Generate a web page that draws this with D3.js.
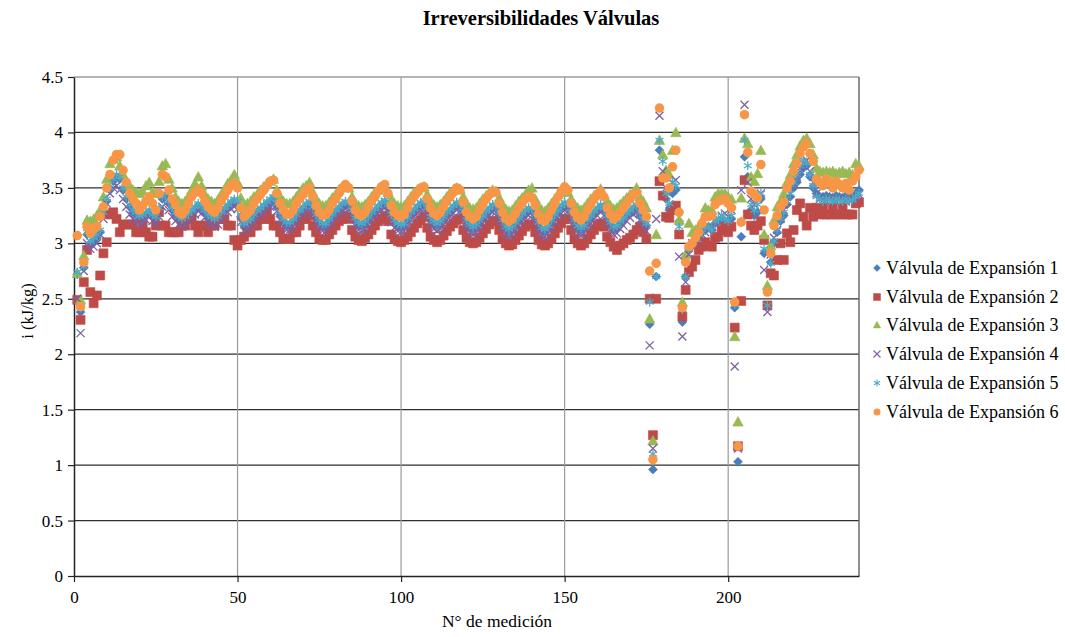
<!DOCTYPE html>
<html>
<head>
<meta charset="utf-8">
<script src="https://cdn.jsdelivr.net/npm/d3@7"></script>
<style>
  html, body { margin: 0; padding: 0; background: #fff; }
  svg { display: block; }
  text { font-family: "Liberation Serif", "Times New Roman", serif; fill: #000; }
</style>
</head>
<body>
<svg id="chart" width="1065" height="637"></svg>
<script>
const chartTitle = "Irreversibilidades Válvulas";
const xLabel = "N° de medición";
const yLabel = "i (kJ/kg)";
const xTicks = [0, 50, 100, 150, 200];
const yTicks = [0, 0.5, 1, 1.5, 2, 2.5, 3, 3.5, 4, 4.5];
const seriesNames = ["Válvula de Expansión 1","Válvula de Expansión 2","Válvula de Expansión 3","Válvula de Expansión 4","Válvula de Expansión 5","Válvula de Expansión 6"];

const valvula1 = [
2.72,2.38,2.78,3.08,3.00,3.02,3.05,3.10,3.25,3.38,
3.48,3.56,3.60,3.58,3.48,3.40,3.33,3.28,3.26,3.22,
3.24,3.26,3.28,3.24,3.22,3.30,3.40,3.42,3.36,3.30,
3.26,3.22,3.20,3.22,3.25,3.28,3.31,3.34,3.32,3.28,
3.24,3.22,3.20,3.22,3.26,3.30,3.33,3.36,3.38,3.36,
3.24,3.16,3.18,3.20,3.24,3.28,3.30,3.33,3.36,3.38,
3.40,3.34,3.26,3.20,3.17,3.17,3.20,3.24,3.28,3.31,
3.34,3.36,3.31,3.24,3.19,3.16,3.16,3.20,3.24,3.28,
3.31,3.34,3.36,3.35,3.28,3.21,3.17,3.16,3.18,3.22,
3.26,3.29,3.32,3.35,3.37,3.33,3.24,3.19,3.16,3.15,
3.16,3.21,3.26,3.29,3.32,3.35,3.36,3.30,3.22,3.18,
3.16,3.18,3.22,3.26,3.29,3.32,3.35,3.34,3.27,3.19,
3.15,3.13,3.15,3.19,3.23,3.27,3.30,3.33,3.33,3.26,
3.19,3.13,3.11,3.13,3.17,3.21,3.25,3.28,3.30,3.30,
3.24,3.17,3.12,3.11,3.14,3.19,3.24,3.28,3.32,3.35,
3.34,3.26,3.19,3.14,3.12,3.14,3.19,3.23,3.27,3.30,
3.33,3.30,3.23,3.17,3.13,3.14,3.18,3.21,3.25,3.28,
3.31,3.33,3.26,3.20,3.16,2.27,0.96,2.70,3.84,3.60,
3.40,3.30,3.45,3.48,3.20,2.29,2.70,2.95,2.98,3.00,
3.05,3.10,3.12,3.15,3.12,3.18,3.20,3.22,3.20,3.18,
3.22,2.42,1.03,3.06,3.78,3.60,3.30,3.25,3.28,3.40,
2.91,2.44,2.83,3.00,3.10,3.20,3.25,3.35,3.42,3.50,
3.55,3.62,3.68,3.70,3.60,3.50,3.45,3.42,3.42,3.43,
3.42,3.41,3.43,3.42,3.41,3.43,3.42,3.41,3.45,3.48];

const valvula2 = [
2.49,2.31,2.65,2.94,2.56,2.46,2.53,2.71,2.91,3.01,
3.26,3.28,3.22,3.10,3.17,3.17,3.17,3.17,3.10,3.10,
3.17,3.10,3.06,3.06,3.16,3.28,3.16,3.16,3.10,3.10,
3.10,3.10,3.16,3.16,3.22,3.22,3.16,3.10,3.16,3.16,
3.10,3.16,3.16,3.22,3.22,3.22,3.16,3.16,3.03,2.98,
3.03,3.06,3.10,3.10,3.16,3.16,3.22,3.22,3.28,3.22,
3.16,3.16,3.10,3.04,3.04,3.04,3.10,3.10,3.16,3.22,
3.22,3.25,3.16,3.10,3.04,3.03,3.03,3.08,3.12,3.16,
3.20,3.22,3.25,3.22,3.12,3.06,3.03,3.02,3.05,3.08,
3.12,3.16,3.20,3.22,3.25,3.20,3.08,3.04,3.02,3.01,
3.03,3.06,3.10,3.14,3.18,3.21,3.24,3.14,3.06,3.03,
3.01,3.03,3.07,3.11,3.15,3.18,3.21,3.22,3.12,3.05,
3.01,3.00,3.01,3.05,3.09,3.13,3.17,3.20,3.20,3.12,
3.04,3.00,2.98,2.99,3.03,3.07,3.11,3.15,3.17,3.17,
3.10,3.03,2.99,2.98,3.00,3.04,3.09,3.14,3.18,3.22,
3.22,3.12,3.04,3.00,2.98,3.00,3.04,3.08,3.12,3.16,
3.18,3.15,3.06,3.01,2.97,2.94,2.98,3.00,3.03,3.05,
3.08,3.12,3.15,3.10,3.04,2.50,1.27,2.50,3.56,3.43,
3.24,3.23,3.30,3.34,3.08,2.34,2.58,2.74,2.79,2.85,
2.94,2.97,3.01,2.98,2.97,3.05,3.06,3.12,3.15,3.10,
3.15,2.24,1.17,2.48,3.57,3.26,3.16,3.12,3.16,3.20,
3.03,2.44,2.73,2.71,2.85,3.00,2.85,3.09,3.01,3.12,
3.30,3.36,3.24,3.16,3.32,3.24,3.32,3.26,3.32,3.26,
3.26,3.32,3.26,3.26,3.32,3.26,3.26,3.26,3.36,3.37];

const valvula3 = [
2.73,2.49,2.89,3.21,3.20,3.22,3.25,3.30,3.42,3.58,
3.72,3.76,3.78,3.70,3.62,3.56,3.52,3.48,3.46,3.45,
3.47,3.52,3.55,3.46,3.45,3.56,3.70,3.72,3.58,3.50,
3.42,3.38,3.36,3.38,3.42,3.48,3.54,3.60,3.52,3.44,
3.40,3.38,3.36,3.39,3.44,3.48,3.54,3.57,3.62,3.55,
3.41,3.34,3.36,3.38,3.42,3.44,3.48,3.51,3.54,3.56,
3.58,3.48,3.42,3.38,3.36,3.36,3.38,3.42,3.46,3.50,
3.52,3.55,3.46,3.40,3.36,3.34,3.34,3.37,3.41,3.44,
3.48,3.51,3.52,3.50,3.42,3.36,3.34,3.33,3.35,3.38,
3.42,3.46,3.48,3.50,3.51,3.46,3.40,3.36,3.34,3.33,
3.34,3.38,3.42,3.46,3.48,3.50,3.51,3.44,3.38,3.35,
3.33,3.35,3.38,3.42,3.46,3.48,3.50,3.49,3.42,3.36,
3.32,3.31,3.32,3.36,3.40,3.43,3.46,3.48,3.47,3.41,
3.35,3.31,3.29,3.30,3.34,3.38,3.41,3.44,3.48,3.50,
3.40,3.34,3.30,3.29,3.32,3.36,3.40,3.44,3.46,3.48,
3.46,3.40,3.35,3.32,3.30,3.32,3.36,3.40,3.43,3.45,
3.49,3.44,3.38,3.34,3.31,3.32,3.35,3.38,3.41,3.44,
3.46,3.50,3.42,3.38,3.32,2.32,1.22,3.08,3.93,3.80,
3.66,3.62,3.84,4.00,3.21,2.47,2.90,3.18,3.10,3.12,
3.15,3.20,3.32,3.30,3.30,3.42,3.45,3.45,3.45,3.42,
3.40,2.16,1.39,3.41,3.95,3.90,3.60,3.56,3.63,3.84,
3.08,2.62,2.98,3.21,3.33,3.38,3.45,3.55,3.62,3.72,
3.80,3.88,3.93,3.95,3.90,3.80,3.68,3.65,3.64,3.65,
3.64,3.65,3.63,3.64,3.65,3.63,3.64,3.62,3.72,3.70];

const valvula4 = [
2.50,2.19,2.75,3.00,2.95,2.97,3.00,3.08,3.22,3.36,
3.45,3.50,3.52,3.48,3.40,3.33,3.26,3.22,3.20,3.17,
3.19,3.21,3.24,3.20,3.17,3.24,3.33,3.36,3.30,3.24,
3.20,3.17,3.15,3.17,3.20,3.23,3.26,3.29,3.27,3.23,
3.19,3.17,3.15,3.17,3.21,3.25,3.28,3.31,3.33,3.31,
3.19,3.11,3.13,3.15,3.19,3.23,3.25,3.28,3.31,3.33,
3.35,3.29,3.21,3.15,3.12,3.12,3.15,3.19,3.23,3.26,
3.29,3.31,3.26,3.19,3.14,3.11,3.11,3.15,3.19,3.23,
3.26,3.29,3.31,3.30,3.23,3.16,3.12,3.11,3.13,3.17,
3.21,3.24,3.27,3.30,3.32,3.28,3.19,3.14,3.11,3.10,
3.11,3.16,3.21,3.24,3.27,3.30,3.31,3.25,3.17,3.13,
3.11,3.13,3.17,3.21,3.24,3.27,3.30,3.29,3.22,3.14,
3.10,3.08,3.10,3.14,3.18,3.22,3.25,3.28,3.28,3.21,
3.14,3.08,3.06,3.08,3.12,3.16,3.20,3.23,3.25,3.25,
3.19,3.12,3.07,3.06,3.09,3.14,3.19,3.23,3.27,3.30,
3.29,3.21,3.14,3.09,3.07,3.09,3.14,3.18,3.22,3.25,
3.28,3.25,3.18,3.12,3.08,3.09,3.13,3.16,3.20,3.23,
3.26,3.28,3.21,3.15,3.11,2.08,1.15,3.22,4.15,3.65,
3.50,3.35,3.55,3.57,2.88,2.16,2.65,2.90,3.00,3.02,
3.05,3.08,3.10,3.12,3.15,3.20,3.22,3.25,3.27,3.24,
3.30,1.89,1.15,3.48,4.25,3.55,3.40,3.35,3.40,3.45,
2.76,2.38,2.90,3.05,3.12,3.22,3.30,3.38,3.45,3.55,
3.60,3.68,3.72,3.75,3.65,3.55,3.45,3.40,3.39,3.38,
3.40,3.39,3.38,3.40,3.39,3.38,3.40,3.39,3.41,3.44];

const valvula5 = [
2.74,2.42,2.79,3.10,3.02,3.05,3.08,3.12,3.28,3.40,
3.50,3.58,3.62,3.60,3.50,3.42,3.35,3.30,3.28,3.25,
3.26,3.28,3.30,3.26,3.24,3.32,3.42,3.45,3.38,3.32,
3.28,3.24,3.22,3.24,3.27,3.30,3.33,3.36,3.34,3.30,
3.26,3.24,3.22,3.24,3.28,3.32,3.35,3.38,3.40,3.38,
3.26,3.18,3.20,3.22,3.26,3.30,3.32,3.35,3.38,3.40,
3.42,3.36,3.28,3.22,3.19,3.19,3.22,3.26,3.30,3.33,
3.36,3.38,3.33,3.26,3.21,3.18,3.18,3.22,3.26,3.30,
3.33,3.36,3.38,3.37,3.30,3.23,3.19,3.18,3.20,3.24,
3.28,3.31,3.34,3.37,3.39,3.35,3.26,3.21,3.18,3.17,
3.18,3.23,3.28,3.31,3.34,3.37,3.38,3.32,3.24,3.20,
3.18,3.20,3.24,3.28,3.31,3.34,3.37,3.36,3.29,3.21,
3.17,3.15,3.17,3.21,3.25,3.29,3.32,3.35,3.35,3.28,
3.21,3.15,3.13,3.15,3.19,3.23,3.27,3.30,3.32,3.32,
3.26,3.19,3.14,3.13,3.16,3.21,3.26,3.30,3.34,3.37,
3.36,3.28,3.21,3.16,3.14,3.16,3.21,3.25,3.29,3.32,
3.35,3.32,3.25,3.19,3.15,3.16,3.20,3.23,3.27,3.30,
3.33,3.35,3.28,3.22,3.18,2.47,1.10,2.70,3.93,3.74,
3.45,3.36,3.55,3.52,3.15,2.40,2.70,2.95,3.00,3.05,
3.08,3.10,3.14,3.15,3.12,3.20,3.22,3.25,3.22,3.20,
3.25,2.45,1.17,3.20,3.93,3.70,3.35,3.30,3.35,3.45,
2.95,2.44,2.82,3.02,3.12,3.22,3.28,3.38,3.45,3.55,
3.62,3.70,3.75,3.72,3.62,3.52,3.42,3.40,3.38,3.40,
3.39,3.38,3.40,3.39,3.38,3.40,3.38,3.39,3.42,3.45];

const valvula6 = [
3.07,2.43,2.83,3.15,3.09,3.13,3.15,3.24,3.33,3.50,
3.62,3.75,3.80,3.80,3.66,3.55,3.45,3.40,3.36,3.30,
3.34,3.38,3.42,3.36,3.30,3.45,3.62,3.60,3.48,3.40,
3.35,3.28,3.26,3.30,3.36,3.42,3.46,3.48,3.45,3.38,
3.33,3.30,3.28,3.32,3.38,3.43,3.48,3.52,3.54,3.50,
3.32,3.24,3.27,3.30,3.36,3.40,3.44,3.48,3.52,3.56,
3.57,3.45,3.36,3.30,3.26,3.26,3.30,3.36,3.40,3.44,
3.48,3.50,3.42,3.34,3.28,3.25,3.26,3.30,3.36,3.40,
3.45,3.50,3.53,3.50,3.38,3.30,3.26,3.25,3.28,3.33,
3.38,3.42,3.47,3.51,3.53,3.45,3.34,3.28,3.25,3.24,
3.26,3.32,3.38,3.42,3.46,3.50,3.51,3.40,3.32,3.27,
3.25,3.28,3.33,3.38,3.42,3.46,3.50,3.48,3.37,3.28,
3.24,3.22,3.24,3.30,3.35,3.40,3.44,3.47,3.46,3.36,
3.28,3.22,3.20,3.22,3.27,3.32,3.36,3.40,3.42,3.41,
3.34,3.26,3.21,3.20,3.24,3.30,3.36,3.42,3.47,3.51,
3.48,3.36,3.28,3.23,3.21,3.24,3.30,3.35,3.40,3.44,
3.47,3.42,3.32,3.26,3.22,3.24,3.28,3.32,3.36,3.40,
3.44,3.45,3.36,3.30,3.24,2.75,1.05,2.82,4.22,3.59,
3.59,3.50,3.69,3.84,3.28,2.42,2.83,2.97,3.00,3.05,
3.10,3.18,3.24,3.24,3.25,3.35,3.38,3.39,3.40,3.36,
3.32,2.47,1.17,3.19,4.16,3.82,3.47,3.44,3.41,3.71,
3.30,2.56,2.91,3.16,3.25,3.33,3.37,3.50,3.56,3.65,
3.72,3.81,3.87,3.90,3.81,3.74,3.58,3.55,3.52,3.58,
3.55,3.50,3.56,3.53,3.50,3.54,3.48,3.56,3.60,3.66];

const seriesColors = ["#4a7ebb","#be4b48","#98b954","#7d60a0","#4bacc6","#f79646"];
const seriesValues = [valvula1, valvula2, valvula3, valvula4, valvula5, valvula6];

const serif = "'Liberation Serif','Times New Roman',serif";
const svg = d3.select("#chart");
const margin = {left: 74, right: 859, top: 77, bottom: 576};
const x = d3.scaleLinear().domain([0, 240]).range([margin.left, margin.right]);
const y = d3.scaleLinear().domain([0, 4.5]).range([margin.bottom, margin.top]);

// title
svg.append("text").attr("x", 541).attr("y", 25).attr("text-anchor", "middle")
  .style("font-family", serif).style("font-size", "20.5px").style("font-weight", "bold").text(chartTitle);

// horizontal gridlines
svg.append("g").selectAll("line").data(yTicks.filter(d => d > 0)).join("line")
  .attr("x1", x(0)).attr("x2", x(240)).attr("y1", d => y(d)).attr("y2", d => y(d))
  .attr("stroke", d => d === 4.5 ? "#6a6a6a" : "#2e2e2e").attr("stroke-width", 1.2);
// vertical gridlines
svg.append("g").selectAll("line").data(xTicks.filter(d => d > 0)).join("line")
  .attr("x1", d => x(d)).attr("x2", d => x(d)).attr("y1", y(4.5)).attr("y2", y(0))
  .attr("stroke", "#9a9a9a").attr("stroke-width", 1.2);
// right border
svg.append("line").attr("x1", x(240)).attr("x2", x(240)).attr("y1", y(4.5)).attr("y2", y(0))
  .attr("stroke", "#6a6a6a").attr("stroke-width", 1.5);

// axes
const yAxis = d3.axisLeft(y).tickValues(yTicks).tickFormat(d => String(d)).tickSizeOuter(0).tickSizeInner(6).tickPadding(5);
const gy = svg.append("g").attr("transform", `translate(${x(0)},0)`).call(yAxis);
const xAxis = d3.axisBottom(x).tickValues(xTicks).tickFormat(d => String(d)).tickSizeOuter(0).tickSizeInner(6).tickPadding(9);
const gx = svg.append("g").attr("transform", `translate(0,${y(0)})`).call(xAxis);
[gx, gy].forEach(g => {
  g.attr("font-family", serif).attr("font-size", 17);
  g.select(".domain").attr("stroke", "#222").attr("stroke-width", 1.5);
  g.selectAll(".tick line").attr("stroke", "#222").attr("stroke-width", 1.2);
  g.selectAll(".tick text").style("font-family", serif).style("font-size", "17px").attr("fill", "#000");
});

// axis labels
svg.append("text").attr("x", 497).attr("y", 627).attr("text-anchor", "middle")
  .style("font-family", serif).style("font-size", "17.5px").text(xLabel);
svg.append("text").attr("transform", "translate(33,311) rotate(-90)").attr("text-anchor", "middle")
  .style("font-family", serif).style("font-size", "16.5px").text(yLabel);

// marker shapes
function markerPath(i, s) {
  const h = s / 2;
  switch (i) {
    case 0: return `M0,${-h}L${h},0L0,${h}L${-h},0Z`;
    case 1: return `M${-h},${-h}H${h}V${h}H${-h}Z`;
    case 2: return `M0,${-h*1.05}L${h*1.05},${h*0.85}L${-h*1.05},${h*0.85}Z`;
    case 3: return `M${-h},${-h}L${h},${h}M${-h},${h}L${h},${-h}`;
    case 4: return `M0,${-h}V${h}M${-h*0.87},${-h*0.5}L${h*0.87},${h*0.5}M${-h*0.87},${h*0.5}L${h*0.87},${-h*0.5}`;
    case 5: return null;
  }
}
const markerSizes = [9, 9, 10, 8, 9, 9.5];

seriesValues.forEach((vals, i) => {
  const g = svg.append("g");
  const pts = vals.map((v, k) => ({xv: k + 1, yv: v}));
  if (i === 5) {
    g.selectAll("circle").data(pts).join("circle")
      .attr("cx", d => x(d.xv)).attr("cy", d => y(d.yv)).attr("r", markerSizes[i] / 2)
      .attr("fill", seriesColors[i]);
  } else {
    const p = markerPath(i, markerSizes[i]);
    const stroked = (i === 3 || i === 4);
    g.selectAll("path").data(pts).join("path")
      .attr("transform", d => `translate(${x(d.xv)},${y(d.yv)})`)
      .attr("d", p)
      .attr("fill", stroked ? "none" : seriesColors[i])
      .attr("stroke", seriesColors[i])
      .attr("stroke-width", stroked ? 1.3 : 0.6);
  }
});

// legend
const legendY = [268, 297, 325, 354, 383, 412];
const lg = svg.append("g");
seriesNames.forEach((name, i) => {
  const cy = legendY[i];
  if (i === 5) {
    lg.append("circle").attr("cx", 877).attr("cy", cy).attr("r", 3.5).attr("fill", seriesColors[i]);
  } else {
    const stroked = (i === 3 || i === 4);
    lg.append("path").attr("transform", `translate(877,${cy})`).attr("d", markerPath(i, 7))
      .attr("fill", stroked ? "none" : seriesColors[i]).attr("stroke", seriesColors[i])
      .attr("stroke-width", stroked ? 1.1 : 0.5);
  }
  lg.append("text").attr("x", 886).attr("y", cy + 6).style("font-family", serif)
    .style("font-size", "18px").text(name);
});
</script>
</body>
</html>
